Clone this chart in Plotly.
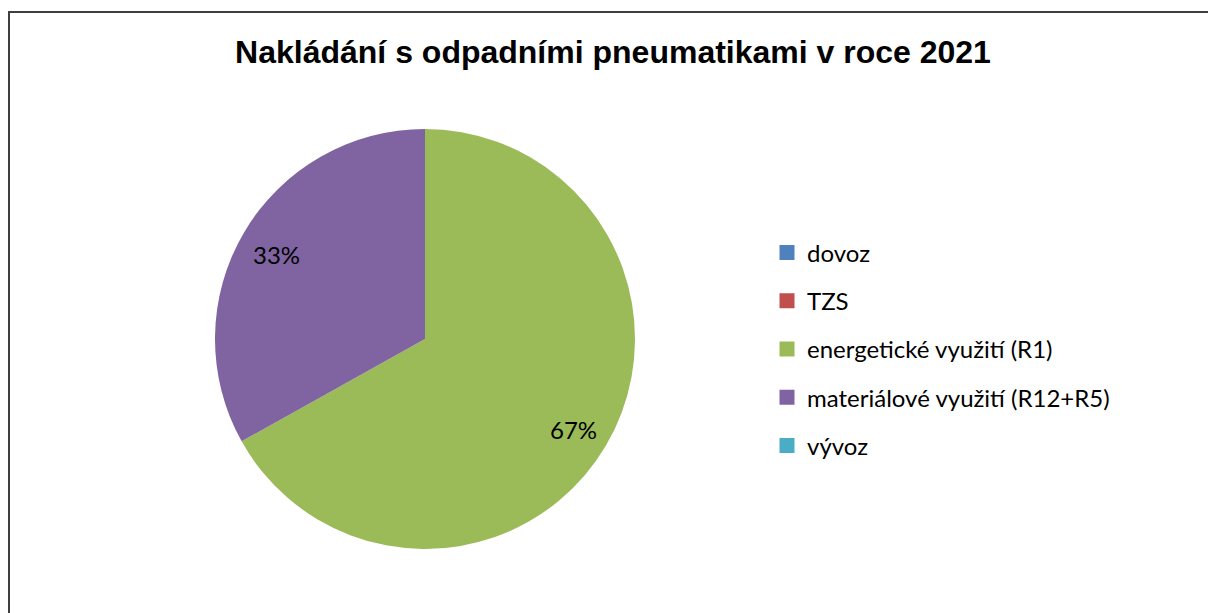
import math
import plotly.graph_objects as go

# Waste tyre treatment in 2021 (share of total)
categories = ["dovoz", "TZS", "energetické využití (R1)", "materiálové využití (R12+R5)", "vývoz"]
values = [0, 0, 66.9, 33.1, 0]
colors = ["#4F81BD", "#C0504D", "#9BBB59", "#8064A2", "#4BACC6"]
title_text = "Nakládání s odpadními pneumatikami v roce 2021"

W, H = 1208, 613
cx, cy, r = 425, 339, 210  # pie centre and radius in pixels

fig = go.Figure()

fig.add_trace(go.Pie(
    labels=categories,
    values=values,
    marker=dict(colors=colors, line=dict(width=0)),
    sort=False,
    direction="clockwise",
    rotation=0,
    textinfo="none",
    hoverinfo="label+percent",
    showlegend=False,
    domain=dict(x=[(cx - r) / W, (cx + r) / W], y=[1 - (cy + r) / H, 1 - (cy - r) / H]),
))

# Legend entries, one group each so the rows can be spaced apart
for name, col in zip(categories, colors):
    fig.add_trace(go.Scatter(
        x=[None], y=[None], mode="markers", name=name,
        legendgroup=name,
        marker=dict(symbol="square", size=15, color=col),
    ))

# Percentage labels placed along each slice's bisector
total = sum(values)
start = 0.0
for v in values:
    if v > 0:
        frac = v / total
        mid = (start + frac / 2) * 2 * math.pi
        px = cx + 0.82 * r * math.sin(mid)
        py = cy - 0.82 * r * math.cos(mid) + 3
        fig.add_annotation(
            x=px / W, y=1 - py / H, xref="paper", yref="paper",
            xanchor="center", yanchor="middle",
            text=f"{round(frac * 100)}%", showarrow=False,
            font=dict(family="Lato, Carlito, sans-serif", size=24, color="#000000"),
        )
    start += v / total

# Chart frame
fig.add_shape(type="rect", xref="paper", yref="paper",
              x0=9 / W, x1=1.05, y0=-0.05, y1=1 - 12 / H,
              line=dict(color="#3f3f3f", width=2), layer="above")

fig.update_layout(
    width=W, height=H,
    margin=dict(l=0, r=0, t=0, b=0),
    paper_bgcolor="white", plot_bgcolor="white",
    title=dict(text=f"<b>{title_text}</b>", x=613 / W, xanchor="center",
               y=1 - 52 / H, yanchor="middle", xref="paper", yref="paper",
               font=dict(family="Liberation Sans, Arial, sans-serif", size=32, color="#000000")),
    xaxis=dict(visible=False), yaxis=dict(visible=False),
    legend=dict(x=767 / W, xanchor="left", y=1 - 349 / H, yanchor="middle",
                tracegroupgap=14, itemsizing="trace",
                font=dict(family="Lato, Carlito, sans-serif", size=24, color="#000000"),
                bgcolor="rgba(0,0,0,0)"),
)

fig.write_html("out.html")
